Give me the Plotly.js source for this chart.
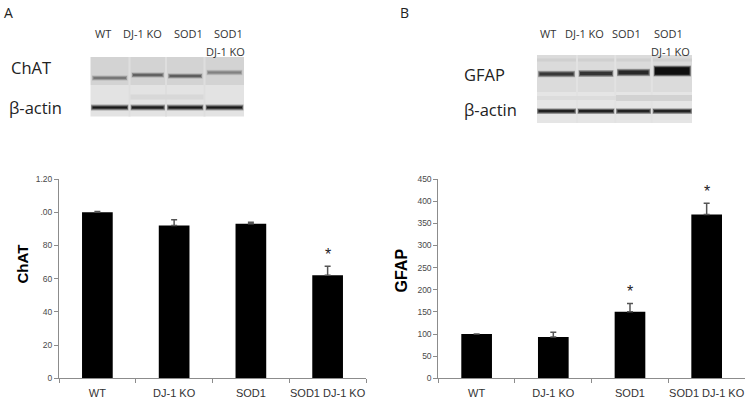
<!DOCTYPE html>
<html>
<head>
<meta charset="utf-8">
<script src="https://cdn.plot.ly/plotly-3.0.1.min.js"></script>
<style>html,body{margin:0;padding:0;background:#fff;}#chart{width:750px;height:408px;}</style>
</head>
<body>
<div id="chart"></div>
<script>
// ---- data ----
var categories = ['WT', 'DJ-1 KO', 'SOD1', 'SOD1 DJ-1 KO'];
var chatValues = [100, 92, 93, 62];
var chatErrors = [0.5, 3.5, 1, 5.5];
var chatSignificant = [false, false, false, true];
var chatTickVals = [0, 20, 40, 60, 80, 100, 120];
var chatTickText = ['0', '20', '40', '60', '80', '.00', '1.20'];

var gfapValues = [100, 93, 150, 370];
var gfapErrors = [0, 11, 19, 25];
var gfapSignificant = [false, false, true, true];
var gfapTickVals = [0, 50, 100, 150, 200, 250, 300, 350, 400, 450];
var gfapTickText = ['0', '50', '100', '150', '200', '250', '300', '350', '400', '450'];

var laneLabels = ['WT', 'DJ-1 KO', 'SOD1', 'SOD1'];
var laneLabelSecond = 'DJ-1 KO';
// relative band darkness per lane (0..1) read from the blots
var chatBand = [0.50, 0.60, 0.62, 0.45];
var chatActin = [0.95, 0.93, 0.95, 0.95];
var gfapBand = [0.80, 0.82, 0.88, 1.0];
var gfapActin = [0.92, 0.92, 0.90, 0.90];

// ---- helpers (pixel -> paper) ----
var W = 750, H = 408;
function px(x) { return x / W; }
function py(y) { return 1 - y / H; }
function grey(d) { var v = Math.round(222 - d * 207); return 'rgb(' + v + ',' + v + ',' + v + ')'; }
function rect(x0, y0, x1, y1, color) {
  return {type: 'rect', xref: 'paper', yref: 'paper', x0: px(x0), x1: px(x1), y0: py(y1), y1: py(y0),
          fillcolor: color, line: {width: 0}, layer: 'above'};
}
function softBand(x0, x1, yc, half, d) {
  shapes.push(rect(x0 + 1, yc - half - 1.5, x1 - 1, yc + half + 1.5, grey(d * 0.3)));
  shapes.push(rect(x0 + 1.5, yc - half - 0.7, x1 - 1.5, yc + half + 0.7, grey(d * 0.65)));
  shapes.push(rect(x0 + 2.5, yc - half + 0.3, x1 - 2.5, yc + half - 0.3, grey(d)));
}
function label(x, y, text, size, color, extra) {
  var a = {xref: 'paper', yref: 'paper', x: px(x), y: py(y), text: text, showarrow: false,
           xanchor: 'center', yanchor: 'middle', font: {family: 'Open Sans', size: size, color: color}};
  if (extra) for (var k in extra) a[k] = extra[k];
  return a;
}

var axisFont = {family: 'Liberation Sans, Arial, sans-serif', size: 8.5, color: '#4a4a4a'};
var catFont = {family: 'Liberation Sans, Arial, sans-serif', size: 11, color: '#333'};

var traces = [
  {type: 'bar', x: categories, y: chatValues, xaxis: 'x', yaxis: 'y',
   marker: {color: '#000', line: {width: 0}}, width: 0.4,
   error_y: {type: 'data', array: chatErrors, arrayminus: chatErrors.map(function(){return 0;}), symmetric: false,
             color: '#555', thickness: 1.5, width: 3},
   hoverinfo: 'x+y'},
  {type: 'bar', x: categories, y: gfapValues, xaxis: 'x2', yaxis: 'y2',
   marker: {color: '#000', line: {width: 0}}, width: 0.4,
   error_y: {type: 'data', array: gfapErrors, arrayminus: gfapErrors.map(function(){return 0;}), symmetric: false,
             color: '#555', thickness: 1.5, width: 3},
   hoverinfo: 'x+y'}
];

var yDom = [py(378.3), py(179)];
function xAxis(dom) {
  return {domain: dom, type: 'category', showline: true, linecolor: '#8c8c8c', linewidth: 1,
          ticks: 'outside', tickson: 'boundaries', ticklen: 4, tickcolor: '#8c8c8c', tickangle: 0,
          tickfont: catFont, ticklabelstandoff: 4, showgrid: false, zeroline: false, fixedrange: true};
}
function yAxis(dom, max, tv, tt, anchor) {
  return {domain: dom, range: [0, max], tickvals: tv, ticktext: tt, showline: true, linecolor: '#8c8c8c',
          linewidth: 1, ticks: 'outside', ticklen: 4, tickcolor: '#8c8c8c', tickfont: axisFont,
          showgrid: false, zeroline: false, anchor: anchor, fixedrange: true};
}

var shapes = [];
var annotations = [];

// ---------- Blot A ----------
shapes.push(rect(90.5, 57, 244, 85, '#d3d3d3'));
shapes.push(rect(90.5, 85, 244, 116.5, '#e3e3e3'));
var aLanes = [[91, 128.5], [130.5, 165], [167, 203.5], [205.5, 243.5]];
[129.5, 166, 204.5].forEach(function(x){ shapes.push(rect(x - 1, 57, x + 1, 116.5, '#dedede')); });
shapes.push(rect(130.5, 94.5, 203.5, 99.5, '#d8d8d8'));
var aBandY = [78, 75, 76, 72.5];
aLanes.forEach(function(l, i){
  softBand(l[0], l[1], aBandY[i], 1.3, chatBand[i]);
  softBand(l[0] - 1, l[1] + 1, 107.5, 1.4, chatActin[i]);
});
var aLabelX = [103.3, 142.7, 188.3, 228.3];
laneLabels.forEach(function(t, i){ annotations.push(label(aLabelX[i], 33, t, 11, '#333')); });
annotations.push(label(225.7, 51, laneLabelSecond, 11, '#333'));
annotations.push(label(31, 68, 'ChAT', 16.5, '#222'));
annotations.push(label(35.5, 108, 'β-actin', 16.5, '#222'));
annotations.push(label(8.5, 12, 'A', 14, '#222'));

// ---------- Blot B ----------
shapes.push(rect(537, 55, 692, 92, '#dbdbdb'));
shapes.push(rect(537, 92, 692, 123, '#e5e5e5'));
shapes.push(rect(537, 58.5, 692, 61.5, '#d0d0d0'));
var bLanes = [[537, 576], [577.5, 614.5], [616, 651], [652.5, 692]];
[577, 615.3, 651.8].forEach(function(x){ shapes.push(rect(x - 1, 55, x + 1, 123, '#e2e2e2')); });
shapes.push(rect(537, 96, 692, 100, '#dcdcdc'));
shapes.push(rect(616, 95, 692, 101, '#d2d2d2'));
var bBandY = [74, 73.5, 72.5, 71];
var bBandH = [3.5, 4, 4.5, 8];
bLanes.forEach(function(l, i){
  softBand(l[0], l[1], bBandY[i], bBandH[i] / 2, gfapBand[i]);
  softBand(l[0] - 1, l[1] + 1, 111.2, 1.4, gfapActin[i]);
});
var bLabelX = [548, 584.7, 626, 668.8];
laneLabels.forEach(function(t, i){ annotations.push(label(bLabelX[i], 33, t, 11, '#333')); });
annotations.push(label(670, 51, laneLabelSecond, 11, '#333'));
annotations.push(label(485, 74, 'GFAP', 16.5, '#222'));
annotations.push(label(490.5, 109.5, 'β-actin', 16.5, '#222'));
annotations.push(label(404.5, 12, 'B', 14, '#222'));

// ---------- axis titles ----------
annotations.push({xref: 'paper', yref: 'paper', x: px(21.5), y: py(264), text: '<b>ChAT</b>', showarrow: false,
  textangle: -90, xanchor: 'center', yanchor: 'middle', font: {family: 'Liberation Sans, Arial', size: 15, color: '#000'}});
annotations.push({xref: 'paper', yref: 'paper', x: px(401), y: py(270.5), text: '<b>GFAP</b>', showarrow: false,
  textangle: -90, xanchor: 'center', yanchor: 'middle', font: {family: 'Liberation Sans, Arial', size: 16, color: '#000'}});

// ---------- significance asterisks ----------
function addStars(values, errors, sig, xr, yr) {
  categories.forEach(function(c, i){
    if (!sig[i]) return;
    annotations.push({xref: xr, yref: yr, x: c, y: values[i] + errors[i], text: '*', showarrow: false,
      xanchor: 'center', yanchor: 'middle', yshift: 12,
      font: {family: 'Liberation Sans, Arial', size: 16, color: '#222'}});
  });
}
addStars(chatValues, chatErrors, chatSignificant, 'x', 'y');
addStars(gfapValues, gfapErrors, gfapSignificant, 'x2', 'y2');

var layout = {
  width: W, height: H, autosize: false,
  margin: {l: 0, r: 0, t: 0, b: 0, pad: 0},
  paper_bgcolor: '#fff', plot_bgcolor: 'rgba(0,0,0,0)',
  showlegend: false, bargap: 0.6,
  xaxis: xAxis([px(59), px(366)]),
  yaxis: yAxis(yDom, 120, chatTickVals, chatTickText, 'x'),
  xaxis2: xAxis([px(438.3), px(745)]),
  yaxis2: yAxis(yDom, 450, gfapTickVals, gfapTickText, 'x2'),
  shapes: shapes,
  annotations: annotations
};
layout.xaxis.anchor = 'y';
layout.xaxis2.anchor = 'y2';

Plotly.newPlot('chart', traces, layout, {displayModeBar: false, staticPlot: true});
</script>
</body>
</html>
